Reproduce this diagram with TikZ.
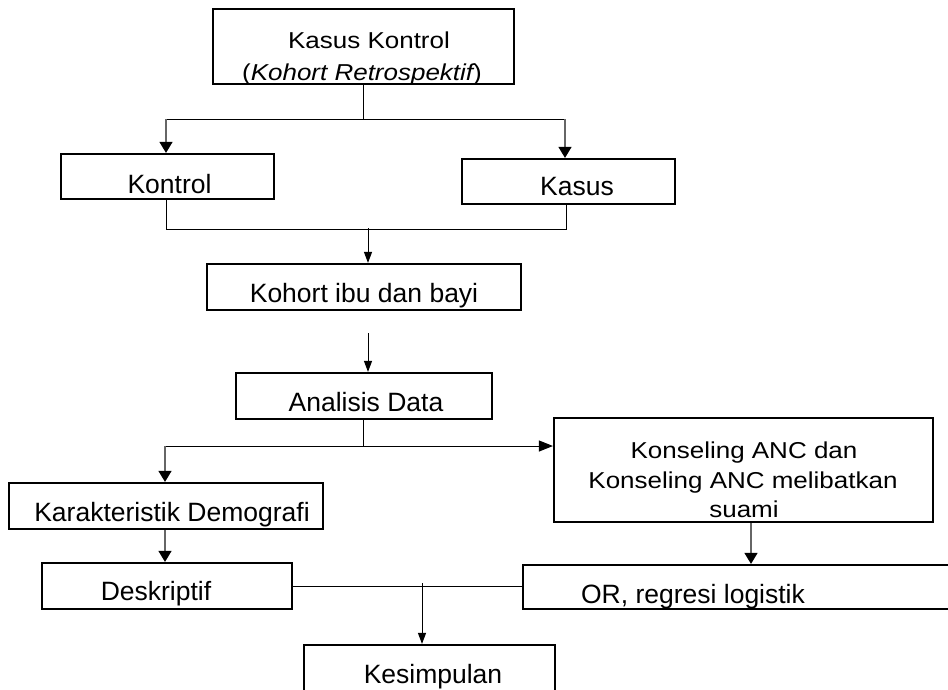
\documentclass[tikz,border=0pt]{standalone}
\usepackage{fontspec}
\setmainfont{Liberation Sans}
\newfontfamily\widefont[FakeStretch=1.13]{Liberation Sans}
\usetikzlibrary{arrows.meta}
\tikzset{
  boxnode/.style={draw=black, line width=2.2pt, rectangle, inner sep=0pt},
  txt/.style={anchor=base, inner sep=0pt, font=\fontsize{26.5}{30}\selectfont},
  wtxt/.style={anchor=base, inner sep=0pt, font=\widefont\fontsize{23}{30}\selectfont},
  conn/.style={draw=black, line width=1pt},
  gconn/.style={draw=black!60, line width=1.3pt},
  bigarrow/.style={-{Triangle[width=13pt,length=11pt,color=black]}},
  smallarrow/.style={-{Triangle[width=8pt,length=11pt,color=black]}},
  sidearrow/.style={-{Triangle[width=11pt,length=14pt,color=black]}}
}
\begin{document}
\begin{tikzpicture}[x=1pt,y=-1pt]
\useasboundingbox (0,0) rectangle (948,689);
\clip (0,0) rectangle (948,689);
\fill[white] (0,0) rectangle (948,689);

% boxes
\node[boxnode, minimum width=301pt, minimum height=75pt] (top) at (363.5,46.5) {};
\node[boxnode, minimum width=213pt, minimum height=45pt] (kontrol) at (167.5,176.5) {};
\node[boxnode, minimum width=213pt, minimum height=45pt] (kasus) at (568.5,181.5) {};
\node[boxnode, minimum width=314pt, minimum height=46pt] (kohort) at (364,287) {};
\node[boxnode, minimum width=256pt, minimum height=46pt] (analisis) at (364,396) {};
\node[boxnode, minimum width=379pt, minimum height=104pt] (konseling) at (743.5,470) {};
\node[boxnode, minimum width=314pt, minimum height=46pt] (karakter) at (166,506) {};
\node[boxnode, minimum width=250pt, minimum height=46pt] (deskriptif) at (167,586) {};
\node[boxnode, minimum width=437pt, minimum height=44pt] (or) at (741.5,587) {};
\node[boxnode, minimum width=251pt, minimum height=60pt] (kesimpulan) at (429.5,675) {};

% texts
\node[wtxt] (tTop1) at (369,48) {Kasus Kontrol};
\node[wtxt] (tTop2) at (362,80) {({\itshape Kohort Retrospektif})};
\node[txt] (tKontrol) at (169.5,193) {Kontrol};
\node[txt] (tKasus) at (577,195) {Kasus};
\node[txt] (tKohort) at (364,302) {Kohort ibu dan bayi};
\node[txt] (tAnalisis) at (366,411) {Analisis Data};
\node[wtxt] (tKons1) at (744,458) {Konseling ANC dan};
\node[wtxt] (tKons2) at (743,488) {Konseling ANC melibatkan};
\node[wtxt] (tKons3) at (744,517) {suami};
\node[txt] (tKarakter) at (172,521) {Karakteristik Demografi};
\node[txt] (tDeskriptif) at (156,600) {Deskriptif};
\node[txt] (tOr) at (693,603) {OR, regresi logistik};
\node[txt] (tKesimpulan) at (433,683) {Kesimpulan};

% junction coordinates
\coordinate (j1) at (363,119);
\coordinate (j1L) at (166,119);
\coordinate (j1R) at (565,119);
\coordinate (j2L) at (166,229);
\coordinate (j2R) at (566,229);
\coordinate (j2C) at (368,228);
\coordinate (j3) at (368,333);
\coordinate (j4) at (363,446);
\coordinate (j4L) at (165,446);
\coordinate (j5) at (422,583);

% connectors
\draw[conn] (top.south -| j1) -- (j1);
\draw[conn] (j1L) -- (j1R);
\draw[gconn, bigarrow] (j1L) -- (j1L |- kontrol.north);
\draw[gconn, bigarrow] (j1R) -- (j1R |- kasus.north);
\draw[conn] (kontrol.south -| j2L) -- (j2L) -- (j2R) -- (kasus.south -| j2R);
\draw[conn, smallarrow] (j2C) -- (j2C |- kohort.north);
\draw[conn, smallarrow] (j3) -- (j3 |- analisis.north);
\draw[conn] (analisis.south -| j4) -- (j4);
\draw[conn] (j4L) -- (j4);
\draw[conn, sidearrow] (j4) -- (j4 -| konseling.west);
\draw[gconn, bigarrow] (j4L) -- (j4L |- karakter.north);
\draw[gconn, bigarrow] (karakter.south -| j4L) -- (j4L |- deskriptif.north);
\draw[gconn, bigarrow] ([xshift=7.5pt]konseling.south) -- ([xshift=9.5pt]or.north);
\draw[conn] (deskriptif.east) -- (deskriptif.east -| or.west);
\draw[conn, smallarrow] (j5) -- (j5 |- kesimpulan.north);
\end{tikzpicture}
\end{document}
